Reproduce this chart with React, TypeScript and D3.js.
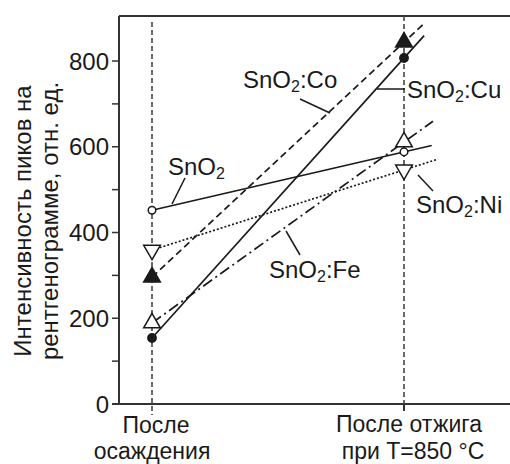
import React from 'react';
import * as d3 from 'd3';

// data
const stages = ['После осаждения', 'После отжига при T=850 °C'];
const samples = ['SnO2', 'SnO2:Co', 'SnO2:Cu', 'SnO2:Fe', 'SnO2:Ni'];
const afterDeposition = [452, 296, 154, 189, 359];
const afterAnnealing = [588, 844, 807, 611, 546];
// trend lines run a little past the second stage (in stage units)
const trendEnd = [1.11, 1.085, 1.08, 1.115, 1.135];
const yTicks = [0, 200, 400, 600, 800];
const yMinorTicks = [100, 300, 500, 700];

const width = 510;
const height = 464;
const left = 119;
const top = 16;
const bottom = 404;
const font = '"Liberation Sans", Arial, sans-serif';
const fs = 24;
const ink = '#1a1a1a';

const x = d3.scaleLinear().domain([0, 1]).range([152, 404]);
const y = d3.scaleLinear().domain([0, 905]).range([bottom, top]);

const styles: Record<string, { dash?: string; marker: string; fill: boolean; size: number }> = {
  'SnO2': { marker: 'circle', fill: false, size: 45 },
  'SnO2:Co': { dash: '7,4', marker: 'up', fill: true, size: 120 },
  'SnO2:Cu': { marker: 'circle', fill: true, size: 55 },
  'SnO2:Fe': { dash: '11,4,2,4', marker: 'up', fill: false, size: 120 },
  'SnO2:Ni': { dash: '2,2', marker: 'down', fill: false, size: 120 },
};

// label anchor (text start, baseline) and leader line, screen px
const labels: Record<string, { tx: number; ty: number; lead: number[] }> = {
  'SnO2': { tx: 168, ty: 175, lead: [185, 178, 172, 204] },
  'SnO2:Co': { tx: 243, ty: 88, lead: [300, 99, 330, 113] },
  'SnO2:Cu': { tx: 407, ty: 98, lead: [377, 89, 405, 89] },
  'SnO2:Fe': { tx: 269, ty: 278, lead: [286, 231, 300, 255] },
  'SnO2:Ni': { tx: 416, ty: 213, lead: [418, 175, 433, 191] },
};

const Chem = ({ name, x0, y0 }: { name: string; x0: number; y0: number }) => {
  const rest = name.replace('SnO2', '');
  return (
    <text x={x0} y={y0} fontFamily={font} fontSize={fs} fill={ink}>
      SnO
      <tspan fontSize={16} dy={4}>2</tspan>
      <tspan dy={-4}>{rest}</tspan>
    </text>
  );
};

const markerPath = (kind: string, size: number) => {
  if (kind === 'circle') return d3.symbol().type(d3.symbolCircle).size(size)()!;
  return d3.symbol().type(d3.symbolTriangle).size(size)()!;
};

export default function App() {
  const lines = samples.map((s, i) => {
    const a = afterDeposition[i];
    const b = afterAnnealing[i];
    const t = trendEnd[i];
    return { s, pts: [[0, a], [t, a + (b - a) * t]] as [number, number][] };
  });
  const lineGen = d3.line<[number, number]>().x(d => x(d[0])).y(d => y(d[1]));

  return (
    <svg width={width} height={height} style={{ position: 'absolute', left: 0, top: 0, background: '#fff' }}>
      {/* frame */}
      <line x1={left} x2={width} y1={top} y2={top} stroke="#333" strokeWidth={2} />
      <line x1={left} x2={left} y1={top} y2={bottom} stroke="#333" strokeWidth={2} />
      <line x1={left - 7} x2={width} y1={bottom} y2={bottom} stroke="#333" strokeWidth={2} />

      {/* y ticks */}
      {yTicks.map(v => (
        <g key={v} transform={`translate(0, ${y(v)})`}>
          <line x1={left - 7} x2={left} stroke="#333" strokeWidth={1.5} />
          <text x={109} dy="0.36em" textAnchor="end" fontFamily={font} fontSize={fs} fill={ink}>{v}</text>
        </g>
      ))}
      {yMinorTicks.map(v => (
        <line key={v} x1={left - 7} x2={left} y1={y(v)} y2={y(v)} stroke="#333" strokeWidth={1.5} />
      ))}

      {/* stage guides */}
      <line x1={x(0)} x2={x(0)} y1={top + 6} y2={bottom + 11} stroke="#444" strokeWidth={1.6} strokeDasharray="5,3" />
      <line x1={x(1)} x2={x(1)} y1={top} y2={bottom} stroke="#444" strokeWidth={1.6} strokeDasharray="5,3" />
      <line x1={x(1)} x2={x(1)} y1={bottom} y2={bottom + 7} stroke="#333" strokeWidth={2} />

      {/* x labels */}
      <text x={x(0) + 4} y={433} textAnchor="middle" fontFamily={font} fontSize={23} fill={ink}>После</text>
      <text x={x(0)} y={459} textAnchor="middle" fontFamily={font} fontSize={23} fill={ink}>осаждения</text>
      <text x={x(1) + 5} y={432} textAnchor="middle" fontFamily={font} fontSize={23} fill={ink}>После отжига</text>
      <text x={x(1) + 9} y={459} textAnchor="middle" fontFamily={font} fontSize={23} fill={ink}>при T=850 °C</text>

      {/* y title */}
      <text transform="translate(31, 221) rotate(-90)" textAnchor="middle" fontFamily={font} fontSize={fs} fill={ink}>
        Интенсивность пиков на
      </text>
      <text transform="translate(58, 221) rotate(-90)" textAnchor="middle" fontFamily={font} fontSize={fs} fill={ink}>
        рентгенограмме, отн. ед.
      </text>

      {/* trend lines */}
      {lines.map(l => (
        <path key={l.s} d={lineGen(l.pts)!} fill="none" stroke={ink} strokeWidth={1.7}
          strokeDasharray={styles[l.s].dash} />
      ))}

      {/* markers */}
      {samples.map((s, i) => {
        const st = styles[s];
        const p = markerPath(st.marker, st.size);
        const rot = st.marker === 'down' ? ' rotate(180)' : '';
        return [afterDeposition[i], afterAnnealing[i]].map((v, j) => (
          <path key={s + j} d={p} transform={`translate(${x(j)}, ${y(v)})${rot}`}
            fill={st.fill ? ink : '#fff'} stroke={ink} strokeWidth={1.5} />
        ));
      })}

      {/* labels with leaders */}
      {samples.map(s => {
        const lb = labels[s];
        return (
          <g key={s}>
            <line x1={lb.lead[0]} y1={lb.lead[1]} x2={lb.lead[2]} y2={lb.lead[3]} stroke={ink} strokeWidth={1.5} />
            <Chem name={s} x0={lb.tx} y0={lb.ty} />
          </g>
        );
      })}
      <title>{stages.join(' / ')}</title>
    </svg>
  );
}
